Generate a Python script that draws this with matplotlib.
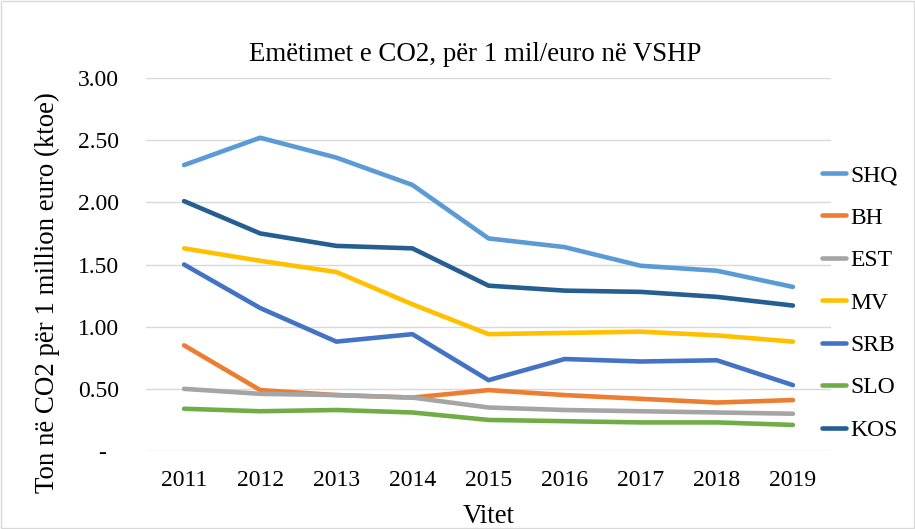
import matplotlib
matplotlib.use("Agg")
import matplotlib.pyplot as plt
from matplotlib.patches import Rectangle

plt.rcParams['font.family'] = ['Liberation Serif', 'DejaVu Serif']

years = ['2011', '2012', '2013', '2014', '2015', '2016', '2017', '2018', '2019']
SHQ = [2.30, 2.52, 2.36, 2.14, 1.71, 1.64, 1.49, 1.45, 1.32]
BH  = [0.85, 0.49, 0.45, 0.43, 0.49, 0.45, 0.42, 0.39, 0.41]
EST = [0.50, 0.46, 0.45, 0.43, 0.35, 0.33, 0.32, 0.31, 0.30]
MV  = [1.63, 1.53, 1.44, 1.18, 0.94, 0.95, 0.96, 0.93, 0.88]
SRB = [1.50, 1.15, 0.88, 0.94, 0.57, 0.74, 0.72, 0.73, 0.53]
SLO = [0.34, 0.32, 0.33, 0.31, 0.25, 0.24, 0.23, 0.23, 0.21]
KOS = [2.01, 1.75, 1.65, 1.63, 1.33, 1.29, 1.28, 1.24, 1.17]

series = [('SHQ', SHQ, '#5B9BD5'), ('BH', BH, '#ED7D31'), ('EST', EST, '#A5A5A5'),
          ('MV', MV, '#FFC000'), ('SRB', SRB, '#4472C4'), ('SLO', SLO, '#70AD47'),
          ('KOS', KOS, '#255E91')]

yticks = [0, 0.5, 1.0, 1.5, 2.0, 2.5, 3.0]
ytick_labels = ['-  ', '0.50', '1.00', '1.50', '2.00', '2.50', '3.00']

fig = plt.figure(figsize=(9.15, 5.29), dpi=100)
fig.patches.append(Rectangle((0.001, 0.001), 0.998, 0.997, transform=fig.transFigure,
                             fill=False, edgecolor='#D9D9D9', linewidth=1))
ax = fig.add_axes([0.1596, 0.1474, 0.7486, 0.7051])

x = list(range(len(years)))
handles = []
for name, vals, col in series:
    h, = ax.plot(x, vals, color=col, linewidth=3.3, solid_capstyle='round',
                 solid_joinstyle='round', label=name, zorder=3)
    handles.append(h)

ax.set_xlim(-0.5, len(years) - 0.5)
ax.set_ylim(0, 3.0)
ax.set_yticks(yticks)
ax.set_yticklabels(ytick_labels)
ax.set_xticks(x)
ax.set_xticklabels(years)
ax.grid(axis='y', color='#D9D9D9', linewidth=1)
ax.set_axisbelow(True)
for s in ax.spines.values():
    s.set_visible(False)
ax.tick_params(length=0, labelsize=17, colors='black')
ax.tick_params(axis='y', pad=19.4)
ax.tick_params(axis='x', pad=13.5)

ax.set_xlabel('Vitet', fontsize=19.4)
ax.xaxis.set_label_coords(0.5, -0.143)
ax.set_ylabel('Ton në CO2 për 1 million euro (ktoe)', fontsize=19.4)
ax.yaxis.set_label_coords(-0.1255, 0.426)
fig.text(0.519, 0.8847, 'Emëtimet e CO2, për 1 mil/euro në VSHP', ha='center',
         va='baseline', fontsize=19.4)

leg = fig.legend(handles=handles, loc='upper left', bbox_to_anchor=(0.8984, 0.6886),
                 frameon=False, fontsize=17, handlelength=1.0, handletextpad=0.2,
                 labelspacing=0.885, borderaxespad=0, borderpad=0)

fig.savefig('out.png', dpi=100)
